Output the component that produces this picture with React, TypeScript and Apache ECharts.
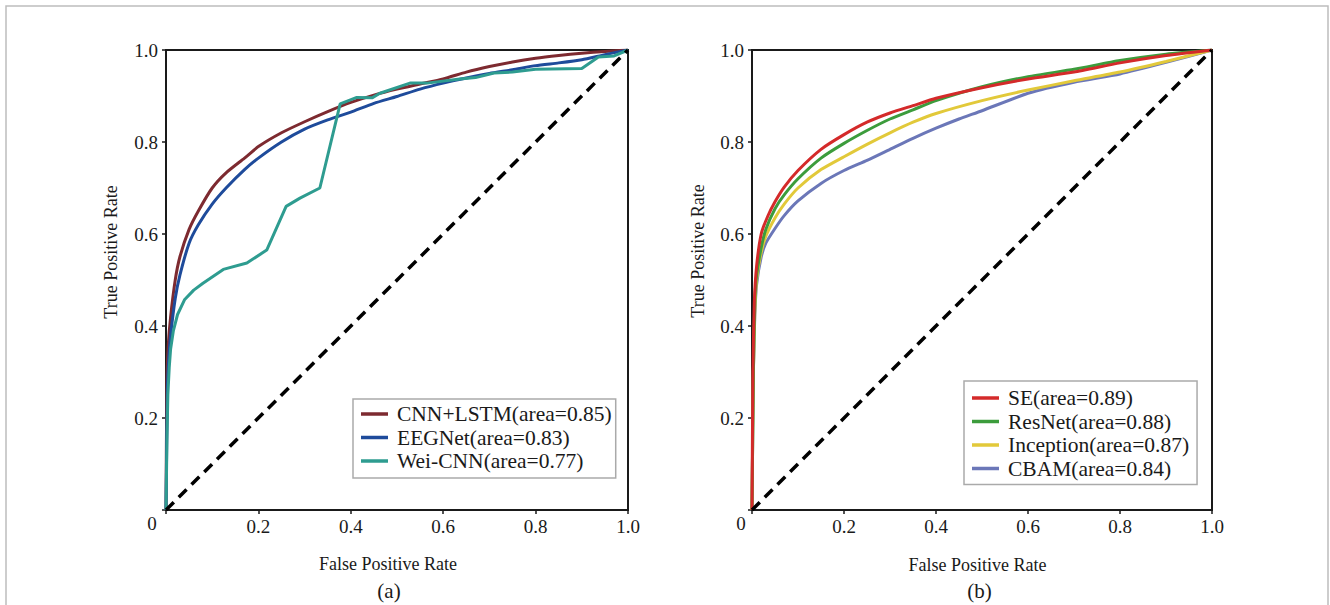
import React, { useEffect, useRef } from 'react';
import * as echarts from 'echarts';

// ---- tick values ----
const axisTicks = [0, 0.2, 0.4, 0.6, 0.8, 1.0];

// ---- panel (a) ----
const namesA = ['CNN+LSTM(area=0.85)', 'EEGNet(area=0.83)', 'Wei-CNN(area=0.77)'];
const colorsA = ['#7d2a30', '#1e4b9b', '#2e9c90'];
const cnnLstm = [
  [0, 0], [0.002, 0.28], [0.005, 0.36], [0.01, 0.42], [0.02, 0.5], [0.03, 0.55], [0.05, 0.61],
  [0.07, 0.65], [0.1, 0.7], [0.13, 0.733], [0.17, 0.765], [0.2, 0.79], [0.25, 0.82], [0.3, 0.844],
  [0.35, 0.866], [0.4, 0.886], [0.45, 0.902], [0.5, 0.915], [0.55, 0.926], [0.6, 0.937], [0.65, 0.952],
  [0.7, 0.964], [0.75, 0.974], [0.8, 0.982], [0.85, 0.988], [0.9, 0.993], [0.95, 0.997], [1, 1],
];
const eegNet = [
  [0, 0], [0.003, 0.26], [0.006, 0.33], [0.01, 0.38], [0.02, 0.46], [0.03, 0.51], [0.05, 0.58],
  [0.07, 0.62], [0.1, 0.665], [0.13, 0.7], [0.17, 0.74], [0.2, 0.765], [0.25, 0.8], [0.3, 0.828],
  [0.35, 0.848], [0.4, 0.865], [0.45, 0.884], [0.5, 0.899], [0.55, 0.915], [0.6, 0.928], [0.65, 0.939],
  [0.7, 0.949], [0.75, 0.957], [0.8, 0.966], [0.85, 0.972], [0.9, 0.979], [0.95, 0.99], [1, 1],
];
const weiCnn = [
  [0, 0], [0.002, 0.15], [0.004, 0.25], [0.007, 0.31], [0.01, 0.35], [0.016, 0.39], [0.025, 0.425],
  [0.04, 0.457], [0.06, 0.478], [0.08, 0.493], [0.124, 0.523], [0.175, 0.537], [0.218, 0.565],
  [0.26, 0.66], [0.29, 0.678], [0.333, 0.7], [0.377, 0.883], [0.413, 0.897], [0.446, 0.896],
  [0.463, 0.906], [0.528, 0.928], [0.565, 0.928], [0.636, 0.937], [0.67, 0.94], [0.71, 0.95],
  [0.75, 0.952], [0.8, 0.958], [0.9, 0.96], [0.936, 0.985], [0.97, 0.987], [1, 1],
];

// ---- panel (b) ----
const namesB = ['SE(area=0.89)', 'ResNet(area=0.88)', 'Inception(area=0.87)', 'CBAM(area=0.84)'];
const colorsB = ['#d42a2a', '#3c9c3c', '#e2c93a', '#6b77b8'];
const seNet = [
  [0, 0], [0.002, 0.3], [0.005, 0.45], [0.01, 0.53], [0.02, 0.6], [0.034, 0.638], [0.05, 0.67],
  [0.07, 0.702], [0.1, 0.738], [0.15, 0.784], [0.2, 0.816], [0.25, 0.843], [0.3, 0.863], [0.35, 0.879],
  [0.4, 0.895], [0.5, 0.918], [0.6, 0.937], [0.7, 0.952], [0.8, 0.972], [0.9, 0.988], [1, 1],
];
const resNet = [
  [0, 0], [0.003, 0.3], [0.006, 0.45], [0.01, 0.51], [0.02, 0.57], [0.03, 0.61], [0.05, 0.655],
  [0.07, 0.685], [0.1, 0.72], [0.15, 0.765], [0.2, 0.797], [0.25, 0.825], [0.3, 0.85], [0.35, 0.87],
  [0.4, 0.89], [0.5, 0.92], [0.6, 0.942], [0.7, 0.958], [0.8, 0.977], [0.9, 0.991], [1, 1],
];
const inception = [
  [0, 0], [0.003, 0.3], [0.006, 0.43], [0.01, 0.5], [0.02, 0.56], [0.03, 0.595], [0.05, 0.635],
  [0.07, 0.665], [0.1, 0.7], [0.15, 0.74], [0.2, 0.768], [0.25, 0.795], [0.3, 0.82], [0.35, 0.843],
  [0.4, 0.862], [0.5, 0.89], [0.6, 0.913], [0.7, 0.933], [0.8, 0.952], [0.9, 0.975], [1, 1],
];
const cbam = [
  [0, 0], [0.003, 0.3], [0.006, 0.42], [0.01, 0.49], [0.02, 0.55], [0.03, 0.58], [0.05, 0.612],
  [0.07, 0.64], [0.1, 0.672], [0.15, 0.71], [0.2, 0.738], [0.25, 0.76], [0.3, 0.784], [0.35, 0.808],
  [0.4, 0.83], [0.45, 0.85], [0.5, 0.868], [0.6, 0.906], [0.7, 0.93], [0.8, 0.948], [0.9, 0.973], [1, 1],
];
const diagonal = [[0, 0], [1, 1]];

const SERIF = 'Times New Roman, Liberation Serif, DejaVu Serif, serif';
const INK = '#1a1a1a';

export default function App() {
  const ref = useRef<HTMLDivElement>(null);

  useEffect(() => {
    document.body.style.margin = '0';
    const chart = echarts.init(ref.current!, undefined, { renderer: 'svg' });

    const fmt = (v: number) => (v === 0 ? '' : v.toFixed(1));

    const makeX = (i: number) => ({
      gridIndex: i,
      type: 'value',
      min: axisTicks[0],
      max: axisTicks[axisTicks.length - 1],
      interval: 0.2,
      axisLine: { show: true, onZero: false, lineStyle: { color: INK, width: 2 } },
      axisTick: { show: true, length: 4, lineStyle: { color: INK, width: 1.5 } },
      axisLabel: { fontFamily: SERIF, fontSize: 19, color: INK, margin: 7, formatter: fmt },
      splitLine: { show: false },
    });
    const makeY = (i: number) => ({
      gridIndex: i,
      type: 'value',
      min: axisTicks[0],
      max: axisTicks[axisTicks.length - 1],
      interval: 0.2,
      axisLine: { show: true, onZero: false, lineStyle: { color: INK, width: 2 } },
      axisTick: { show: true, length: 4, lineStyle: { color: INK, width: 1.5 } },
      axisLabel: { fontFamily: SERIF, fontSize: 19, color: INK, margin: 8, formatter: fmt },
      splitLine: { show: false },
    });

    const curve = (name: string, data: number[][], color: string, gi: number, smooth: boolean) => ({
      name,
      type: 'line',
      xAxisIndex: gi,
      yAxisIndex: gi,
      data,
      symbol: 'none',
      smooth: smooth ? 0.2 : false,
      lineStyle: { color, width: 3 },
      itemStyle: { color },
      z: 3,
    });
    const diag = (gi: number) => ({
      name: 'diag' + gi,
      type: 'line',
      xAxisIndex: gi,
      yAxisIndex: gi,
      data: diagonal,
      symbol: 'none',
      silent: true,
      lineStyle: { color: '#000', width: 3.5, type: [11, 7] },
      z: 5,
    });

    const legendBase = {
      orient: 'vertical',
      icon: 'rect',
      itemWidth: 27,
      itemHeight: 3.5,
      itemGap: 1.5,
      borderColor: '#aaaaaa',
      borderWidth: 1.5,
      backgroundColor: '#fff',
      textStyle: { fontFamily: SERIF, fontSize: 21.5, color: INK, lineHeight: 22, padding: [0, 0, 0, 4] },
    };

    const txt = (text: string, x: number, y: number, size: number, rotation = 0) => ({
      type: 'text',
      x,
      y,
      rotation,
      silent: true,
      style: {
        text,
        fill: INK,
        fontFamily: SERIF,
        fontSize: size,
        textAlign: 'center',
        textVerticalAlign: 'middle',
        align: 'center',
        verticalAlign: 'middle',
      },
    });

    chart.setOption({
      animation: false,
      backgroundColor: '#fff',
      textStyle: { fontFamily: SERIF },
      grid: [
        { left: 166, top: 50, width: 462, height: 460, show: true, borderColor: INK, borderWidth: 2, backgroundColor: 'transparent' },
        { left: 752, top: 50, width: 460, height: 460, show: true, borderColor: INK, borderWidth: 2, backgroundColor: 'transparent' },
      ],
      xAxis: [makeX(0), makeX(1)],
      yAxis: [makeY(0), makeY(1)],
      legend: [
        { ...legendBase, left: 353, top: 399, padding: [4, 4, 6, 8], data: namesA },
        { ...legendBase, left: 964, top: 381, padding: [6, 8, 5, 8], data: namesB },
      ],
      series: [
        curve(namesA[0], cnnLstm, colorsA[0], 0, true),
        curve(namesA[1], eegNet, colorsA[1], 0, true),
        curve(namesA[2], weiCnn, colorsA[2], 0, false),
        diag(0),
        curve(namesB[3], cbam, colorsB[3], 1, true),
        curve(namesB[2], inception, colorsB[2], 1, true),
        curve(namesB[1], resNet, colorsB[1], 1, true),
        curve(namesB[0], seNet, colorsB[0], 1, true),
        diag(1),
      ],
      graphic: [
        {
          type: 'rect',
          silent: true,
          shape: { x: 6, y: 6, width: 1322, height: 660 },
          style: { fill: 'none', stroke: '#bdbdbd', lineWidth: 1.5 },
          z: -10,
        },
        txt('0', 152, 523.5, 19),
        txt('0', 741, 523, 19),
        txt('True Positive Rate', 111, 252, 18, Math.PI / 2),
        txt('True Positive Rate', 698, 251, 18, Math.PI / 2),
        txt('False Positive Rate', 388, 564, 18),
        txt('False Positive Rate', 977.5, 564.5, 18),
        txt('(a)', 389, 591, 21),
        txt('(b)', 979.5, 591, 21),
      ],
    });

    return () => chart.dispose();
  }, []);

  return <div ref={ref} style={{ width: 1330, height: 605 }} />;
}
